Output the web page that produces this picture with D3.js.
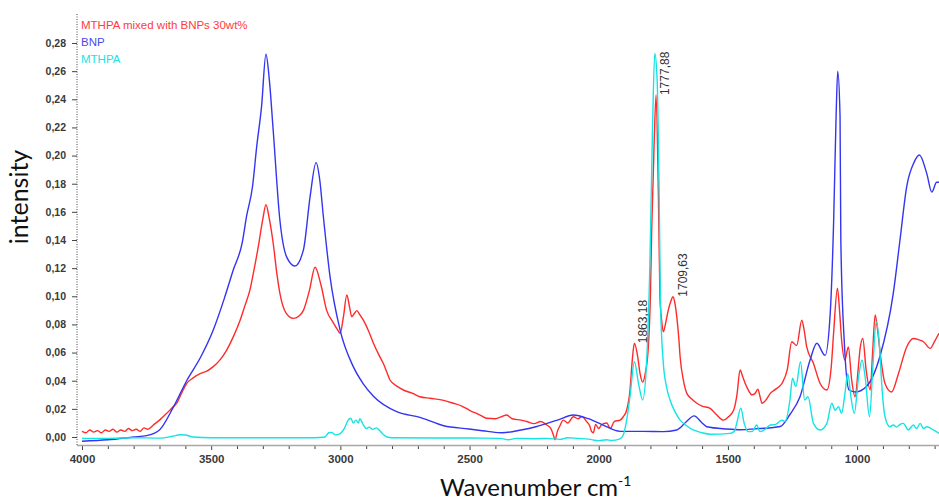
<!DOCTYPE html>
<html>
<head>
<meta charset="utf-8">
<script src="https://cdn.jsdelivr.net/npm/d3@7"></script>
<style>
	body { margin: 0; background: #fff; }
	svg { display: block; }
</style>
</head>
<body>
<div id="chart"></div>
<script>
// series: wavenumber (cm-1) and intensity
var seriesNames = ['MTHPA mixed with BNPs 30wt%', 'BNP', 'MTHPA'];

var mixedWn = [4000, 3985, 3970, 3955, 3940, 3925, 3910, 3895, 3880, 3865, 3850, 3835, 3820, 3805, 3790, 3775, 3760, 3745, 3724, 3700,
	3672, 3650, 3633, 3615, 3595, 3570, 3543, 3515, 3492, 3465, 3440, 3415, 3388, 3370, 3350, 3335, 3318, 3300, 3288, 3275,
	3260, 3245, 3234, 3210, 3182, 3160, 3143, 3120, 3098, 3075, 3053, 3030, 3010, 3001, 2988, 2975, 2965, 2956, 2945, 2936,
	2925, 2911, 2890, 2872, 2850, 2834, 2820, 2808, 2780, 2756, 2720, 2692, 2653, 2600, 2563, 2530, 2500, 2459, 2434, 2400,
	2375, 2356, 2335, 2300, 2279, 2250, 2225, 2201, 2185, 2175, 2169, 2160, 2150, 2137, 2120, 2098, 2080, 2065, 2047, 2035,
	2028, 2021, 2012, 2000, 1990, 1969, 1955, 1940, 1917, 1905, 1892, 1879, 1870, 1862, 1850, 1840, 1830, 1820, 1808, 1800,
	1795, 1786, 1778, 1769, 1763, 1756, 1750, 1740, 1731, 1720, 1713, 1705, 1698, 1690, 1685, 1672, 1659, 1640, 1620, 1600,
	1569, 1545, 1517, 1500, 1478, 1465, 1453, 1443, 1433, 1420, 1407, 1395, 1384, 1376, 1368, 1350, 1336, 1315, 1291, 1270,
	1253, 1234, 1214, 1205, 1195, 1169, 1143, 1117, 1100, 1091, 1076, 1068, 1060, 1047, 1034, 1021, 1008, 995, 989, 978,
	965, 949, 940, 930, 920, 912, 892, 867, 840, 808, 782, 760, 743, 717, 700, 683];
var mixedVal = [0.004, 0.003, 0.005, 0.0035, 0.0045, 0.003, 0.005, 0.004, 0.0055, 0.0035, 0.005, 0.004, 0.006, 0.0045, 0.0055, 0.004, 0.0065, 0.0055, 0.0085, 0.012,
	0.0168, 0.021, 0.024, 0.031, 0.038, 0.042, 0.045, 0.047, 0.050, 0.055, 0.0618, 0.071, 0.083, 0.093, 0.1045, 0.118, 0.135, 0.155, 0.165, 0.155,
	0.1377, 0.115, 0.102, 0.088, 0.0843, 0.086, 0.090, 0.104, 0.1206, 0.108, 0.090, 0.082, 0.076, 0.0737, 0.0855, 0.101, 0.093, 0.0855, 0.088, 0.0898,
	0.087, 0.083, 0.075, 0.0666, 0.058, 0.0524, 0.046, 0.0405, 0.036, 0.0334, 0.031, 0.0286, 0.0275, 0.026, 0.024, 0.022, 0.019, 0.0156, 0.0133, 0.013,
	0.0145, 0.0156, 0.013, 0.012, 0.011, 0.0095, 0.011, 0.0085, 0.006, 0.001, -0.002, 0.004, 0.008, 0.012, 0.010, 0.0144, 0.013, 0.0145, 0.011, 0.008,
	0.004, 0.003, 0.009, 0.006, 0.0085, 0.010, 0.006, 0.011, 0.012, 0.0144, 0.019, 0.0334, 0.055, 0.0666, 0.058, 0.045, 0.039, 0.045, 0.064, 0.100,
	0.147, 0.206, 0.243, 0.171, 0.0997, 0.082, 0.0748, 0.082, 0.090, 0.097, 0.0997, 0.095, 0.0855, 0.070, 0.057, 0.040, 0.031, 0.027, 0.024, 0.022,
	0.0204, 0.016, 0.012, 0.014, 0.019, 0.030, 0.0476, 0.043, 0.038, 0.033, 0.030, 0.031, 0.034, 0.029, 0.024, 0.027, 0.031, 0.034, 0.038, 0.048,
	0.0677, 0.065, 0.083, 0.076, 0.064, 0.0524, 0.038, 0.0334, 0.050, 0.0737, 0.1057, 0.090, 0.069, 0.0547, 0.064, 0.0405, 0.0286, 0.050, 0.0618, 0.070,
	0.0476, 0.0334, 0.060, 0.0867, 0.075, 0.0618, 0.038, 0.032, 0.045, 0.064, 0.070, 0.069, 0.0677, 0.063, 0.068, 0.0737];

var bnpWn = [4000, 3900, 3800, 3750, 3700, 3647, 3595, 3540, 3492, 3450, 3414, 3380, 3363, 3340, 3324, 3305, 3288, 3275, 3260, 3234,
	3208, 3176, 3143, 3117, 3094, 3080, 3066, 3040, 3001, 2950, 2912, 2872, 2782, 2692, 2600, 2503, 2430, 2373, 2300, 2243,
	2160, 2098, 2040, 1983, 1917, 1828, 1750, 1698, 1660, 1631, 1600, 1582, 1505, 1453, 1380, 1298, 1260, 1221, 1182, 1156,
	1124, 1104, 1091, 1081, 1075, 1066, 1063, 1050, 1031, 1005, 963, 912, 860, 834, 808, 780, 759, 730, 711, 692, 683];
var bnpVal = [-0.003, -0.002, 0.000, 0.001, 0.005, 0.021, 0.040, 0.057, 0.076, 0.098, 0.119, 0.138, 0.157, 0.178, 0.206, 0.235, 0.272, 0.254, 0.218, 0.154,
	0.128, 0.1215, 0.133, 0.171, 0.195, 0.183, 0.157, 0.114, 0.076, 0.050, 0.038, 0.029, 0.018, 0.014, 0.008, 0.0057, 0.004, 0.003, 0.005, 0.0073,
	0.012, 0.0156, 0.013, 0.0085, 0.004, 0.004, 0.0038, 0.005, 0.011, 0.015, 0.010, 0.0073, 0.0057, 0.0052, 0.006, 0.0075, 0.016, 0.0286, 0.0547, 0.0666,
	0.058, 0.088, 0.152, 0.230, 0.260, 0.228, 0.140, 0.069, 0.0334, 0.032, 0.036, 0.057, 0.102, 0.140, 0.178, 0.195, 0.2004, 0.187, 0.174, 0.181, 0.181];

var mthpaWn = [4000, 3900, 3800, 3700, 3650, 3620, 3600, 3570, 3500, 3300, 3100, 3060, 3045, 3035, 3020, 3005, 2985, 2970, 2960, 2950,
	2940, 2930, 2925, 2912, 2900, 2888, 2875, 2860, 2850, 2835, 2820, 2800, 2600, 2450, 2380, 2350, 2320, 2250, 2200, 2150,
	2120, 2080, 2040, 2000, 1970, 1950, 1920, 1905, 1892, 1879, 1862, 1846, 1830, 1815, 1802, 1792, 1783, 1774, 1766, 1761,
	1750, 1738, 1724, 1705, 1685, 1660, 1634, 1600, 1569, 1492, 1475, 1466, 1450, 1437, 1421, 1405, 1389, 1376, 1360, 1336,
	1315, 1291, 1279, 1260, 1250, 1237, 1219, 1203, 1190, 1169, 1143, 1117, 1098, 1085, 1072, 1060, 1047, 1036, 1024, 1011,
	994, 981, 969, 952, 939, 926, 913, 904, 892, 873, 860, 847, 834, 821, 802, 782, 770, 756, 743, 730, 705, 683];
var mthpaVal = [-0.001, -0.001, -0.0005, -0.0008, 0.0005, 0.0016, 0.0014, 0.000, -0.0005, -0.0005, -0.0005, 0.000, 0.003, 0.0033, 0.0015, 0.002, 0.006, 0.012, 0.0133, 0.010,
	0.012, 0.010, 0.013, 0.009, 0.006, 0.007, 0.0055, 0.0065, 0.005, 0.002, 0.000, -0.0005, -0.0007, -0.0008, -0.001, -0.002, -0.001, -0.0012, -0.001, -0.0017,
	-0.0005, -0.001, -0.0015, -0.0026, -0.002, -0.0024, -0.0015, 0.0014, 0.012, 0.0286, 0.0535, 0.038, 0.0263, 0.0524, 0.123, 0.218, 0.2727, 0.254, 0.171, 0.095,
	0.0524, 0.036, 0.0263, 0.018, 0.012, 0.008, 0.005, 0.003, 0.002, 0.0026, 0.004, 0.0097, 0.0204, 0.0097, 0.0038, 0.004, 0.0085, 0.0038, 0.005, 0.0085,
	0.009, 0.012, 0.011, 0.0263, 0.0417, 0.0358, 0.0535, 0.0263, 0.0286, 0.0097, 0.005, 0.0097, 0.024, 0.019, 0.0215, 0.0168, 0.031, 0.045, 0.0286, 0.0168,
	0.043, 0.0547, 0.043, 0.0144, 0.050, 0.082, 0.064, 0.0358, 0.0144, 0.0073, 0.0085, 0.007, 0.009, 0.0097, 0.005, 0.0085, 0.006, 0.0097, 0.006, 0.0073, 0.005, 0.0026];

// annotated peaks
var peakWn = [1863.18, 1777.88, 1709.63];
var peakVal = [0.0666, 0.243, 0.0997];
var peakLabels = ['1863,18', '1777,88', '1709,63'];

var xMajorTicks = [4000, 3500, 3000, 2500, 2000, 1500, 1000];
var yTicks = [0, 0.02, 0.04, 0.06, 0.08, 0.10, 0.12, 0.14, 0.16, 0.18, 0.20, 0.22, 0.24, 0.26, 0.28];

var width = 939;
var height = 500;
var colors = ['#ff2b2b', '#3434f2', '#14e4e4'];
var legendColors = ['#ff3b3b', '#4a4af0', '#22e2e2'];

var x = d3.scaleLinear().domain([4000, 683]).range([82, 939]);
var y = d3.scaleLinear().domain([0, 0.28]).range([437, 43]);

var svg = d3.select('#chart').append('svg')
	.attr('width', width)
	.attr('height', height)
	.style('font-family', '"Liberation Sans", Arial, sans-serif');

svg.append('defs').append('clipPath')
	.attr('id', 'plot-clip')
	.append('rect')
	.attr('x', 78)
	.attr('y', 10)
	.attr('width', width - 78)
	.attr('height', 435);

// x axis: grey base line, major ticks with labels, minor ticks every 100
var xAxis = svg.append('g')
	.attr('transform', 'translate(0,446)')
	.call(d3.axisBottom(x).tickValues(xMajorTicks).tickSize(4).tickPadding(5).tickFormat(d3.format('d')));
xAxis.select('.domain').remove();
xAxis.selectAll('line').attr('stroke', '#444');
xAxis.selectAll('text').attr('font-size', '11.5px').attr('fill', '#3a3a3a').attr('font-weight', 'bold');

var minorTicks = d3.range(3900, 683, -100).filter(function(d) {return d % 500 !== 0;});
svg.append('g')
	.attr('transform', 'translate(0,446)')
	.call(d3.axisBottom(x).tickValues(minorTicks).tickSize(3).tickFormat(''))
	.call(function(g) {g.select('.domain').remove();})
	.selectAll('line').attr('stroke', '#444');

svg.append('line')
	.attr('x1', 77).attr('x2', width)
	.attr('y1', 445.5).attr('y2', 445.5)
	.attr('stroke', '#a8a8a8')
	.attr('stroke-width', 1.5);

// y axis: dotted line
var yAxis = svg.append('g')
	.attr('transform', 'translate(77,0)')
	.call(d3.axisLeft(y).tickValues(yTicks).tickSize(5).tickPadding(6)
		.tickFormat(function(d) {return d.toFixed(2).replace('.', ',');}));
yAxis.select('.domain').remove();
yAxis.selectAll('line').attr('stroke', '#444');
yAxis.selectAll('text').attr('font-size', '10.5px').attr('fill', '#3a3a3a').attr('font-weight', 'bold');

svg.append('line')
	.attr('x1', 77).attr('x2', 77)
	.attr('y1', 14).attr('y2', 446)
	.attr('stroke', '#444')
	.attr('stroke-width', 1)
	.attr('stroke-dasharray', '1,1.5');

// spectra
var line = d3.line()
	.x(function(d) {return x(d[0]);})
	.y(function(d) {return y(d[1]);})
	.curve(d3.curveMonotoneX);

var plot = svg.append('g').attr('clip-path', 'url(#plot-clip)');
var series = [
	d3.zip(mixedWn, mixedVal),
	d3.zip(bnpWn, bnpVal),
	d3.zip(mthpaWn, mthpaVal)
];
series.forEach(function(s, i) {
	plot.append('path')
		.datum(s)
		.attr('fill', 'none')
		.attr('stroke', colors[i])
		.attr('stroke-width', 1.4)
		.attr('stroke-linejoin', 'round')
		.attr('d', line);
});

// peak labels, rotated
peakWn.forEach(function(wn, i) {
	var px = x(wn) + 13;
	var py = y(peakVal[i]);
	svg.append('text')
		.attr('transform', 'translate(' + px + ',' + py + ') rotate(-90)')
		.attr('font-size', '12px')
		.attr('fill', '#333')
		.text(peakLabels[i]);
});

// legend
seriesNames.forEach(function(name, i) {
	svg.append('text')
		.attr('x', 81)
		.attr('y', 29 + i * 17)
		.attr('font-size', '11.5px')
		.attr('fill', legendColors[i])
		.text(name);
});

// axis titles
svg.append('text')
	.attr('transform', 'translate(28,197) rotate(-90)')
	.attr('text-anchor', 'middle')
	.attr('font-family', 'Lato, "Open Sans", sans-serif')
	.attr('font-size', '25px')
	.attr('fill', '#111')
	.text('intensity');

var xTitle = svg.append('text')
	.attr('x', 440)
	.attr('y', 496)
	.attr('font-family', 'Lato, "Open Sans", sans-serif')
	.attr('font-size', '24px')
	.attr('fill', '#111');
xTitle.append('tspan').text('Wavenumber cm');
xTitle.append('tspan').attr('dy', -10).attr('font-size', '14px').text('-1');
</script>
</body>
</html>
